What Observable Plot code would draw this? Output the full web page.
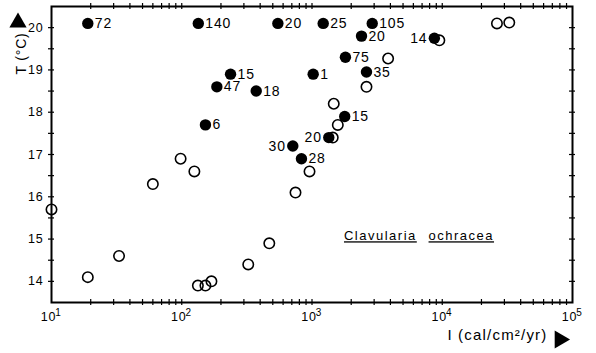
<!DOCTYPE html>
<html>
<head>
<meta charset="utf-8">
<script src="https://cdn.jsdelivr.net/npm/d3@7"></script>
<script src="https://cdn.jsdelivr.net/npm/@observablehq/plot@0.6"></script>
<style>
  html, body { margin: 0; padding: 0; background: #fff; }
  svg text { letter-spacing: 0.8px; }
</style>
</head>
<body>
<div id="chart"></div>
<script>
// Filled points (labelled) — irradiance I (cal/cm²/yr) and temperature T (°C)
const filledI = [19, 134, 547, 1219, 2900, 2400, 8700, 1806, 1021, 2620, 237, 186, 373, 152, 712, 830, 1346, 1783];
const filledT = [20.1, 20.1, 20.1, 20.1, 20.1, 19.8, 19.75, 19.3, 18.9, 18.95, 18.9, 18.6, 18.5, 17.7, 17.2, 16.9, 17.4, 17.9];
const filledLabel = ["72", "140", "20", "25", "105", "20", "14", "75", "1", "35", "15", "47", "18", "6", "30", "28", "20", "15"];

// Open points
const openI = [10, 19, 33, 60, 98, 125, 133, 152, 169, 324, 470, 747, 957, 1443, 1578, 1469, 2620, 3840, 9500, 26300, 32700];
const openT = [15.7, 14.1, 14.6, 16.3, 16.9, 16.6, 13.9, 13.9, 14.0, 14.4, 14.9, 16.1, 16.6, 17.4, 17.7, 18.2, 18.6, 19.27, 19.7, 20.1, 20.12];

// Axis tick values / labels
const xMajor = [10, 100, 1000, 10000, 100000];
const xExponent = ["1", "2", "3", "4", "5"];
const yLabels = [14, 15, 16, 17, 18, 19, 20];
const xDomain = [10, 100000];
const yDomain = [13.5, 20.5];

const species = [{text: "Clavularia", x: 3350, y: 15.07}, {text: "ochracea", x: 14000, y: 15.07}];

// Build tables
const filled = filledI.map((v, i) => ({I: v, T: filledT[i], label: filledLabel[i]}));
const open = openI.map((v, i) => ({I: v, T: openT[i]}));
const leftIdx = new Set([6, 14, 16]);
const filledRight = filled.filter((d, i) => !leftIdx.has(i));
const filledLeft = filled.filter((d, i) => leftIdx.has(i));

const xMinor = [];
for (let k = 1; k <= 4; k++) for (let m = 2; m <= 10; m++) { const v = m * 10 ** k; if (v < 100000) xMinor.push(v); }
const yMinor = d3.range(14, 20.01, 0.5);

const font = "Liberation Sans, Arial, sans-serif";

const chart = Plot.plot({
  width: 596,
  height: 353,
  marginLeft: 51,
  marginRight: 24,
  marginTop: 6,
  marginBottom: 51,
  style: {fontFamily: font, background: "white", color: "black"},
  x: {type: "log", domain: xDomain},
  y: {domain: yDomain},
  marks: [
    Plot.frame({stroke: "black", strokeWidth: 2}),
    // crossing tick marks on all four sides
    Plot.ruleX(xMinor, {x: d => d, y1: yDomain[0], y2: yDomain[0], insetTop: -3, insetBottom: -3, stroke: "black", strokeWidth: 1.2}),
    Plot.ruleX(xMinor, {x: d => d, y1: yDomain[1], y2: yDomain[1], insetTop: -3, insetBottom: -3, stroke: "black", strokeWidth: 1.2}),
    Plot.ruleY(yMinor, {y: d => d, x1: xDomain[0], x2: xDomain[0], insetLeft: -3, insetRight: -3, stroke: "black", strokeWidth: 1.2}),
    Plot.ruleY(yMinor, {y: d => d, x1: xDomain[1], x2: xDomain[1], insetLeft: -3, insetRight: -3, stroke: "black", strokeWidth: 1.2}),
    Plot.axisY({ticks: yLabels, tickSize: 0, tickPadding: 8, fontSize: 12.5, tickFormat: d => String(d), label: null}),
    Plot.axisX({ticks: xMajor, tickSize: 0, tickPadding: 10, fontSize: 12.5, tickFormat: () => "10", label: null, dx: -3}),
    Plot.text(xMajor, {x: d => d, text: (d, i) => xExponent[i], frameAnchor: "bottom", dx: 7, dy: 13, fontSize: 10, textAnchor: "middle"}),
    // axis titles with arrows
    Plot.text([0], {text: () => "T (°C)", frameAnchor: "top-left", rotate: -90, dx: -35, dy: 47, fontSize: 14, textAnchor: "middle"}),
    Plot.dot([0], {frameAnchor: "top-left", dx: -33.5, dy: 16, symbol: "triangle", r: 6.4, fill: "black"}),
    Plot.text([0], {text: () => "I (cal/cm²/yr)", frameAnchor: "bottom-right", dx: -25, dy: 37, fontSize: 15, textAnchor: "end"}),
    Plot.dot([0], {frameAnchor: "bottom-right", dx: -12.7, dy: 37, symbol: "triangle", rotate: 90, r: 6.6, fill: "black"}),
    // data
    Plot.dot(open, {x: "I", y: "T", r: 5.2, stroke: "black", strokeWidth: 1.6, fill: "none"}),
    Plot.dot(filled, {x: "I", y: "T", r: 5.7, fill: "black"}),
    Plot.text(filledRight, {x: "I", y: "T", text: "label", dx: 7, textAnchor: "start", fontSize: 14}),
    Plot.text(filledLeft, {x: "I", y: "T", text: "label", dx: -7, textAnchor: "end", fontSize: 14}),
    Plot.text(species, {x: "x", y: "y", text: "text", fontSize: 13, textAnchor: "middle"})
  ]
});

d3.select(chart).selectAll("text")
  .filter(function () { return this.textContent === "Clavularia" || this.textContent === "ochracea"; })
  .style("text-decoration", "underline")
  .style("letter-spacing", "1.5px");
d3.select(chart).selectAll("text")
  .filter(function () { return this.textContent === "I (cal/cm²/yr)"; })
  .style("letter-spacing", "1.2px");

document.getElementById("chart").appendChild(chart);
</script>
</body>
</html>
